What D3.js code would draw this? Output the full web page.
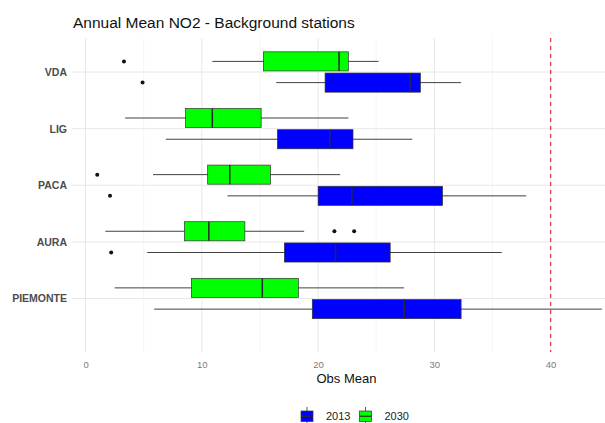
<!DOCTYPE html>
<html>
<head>
<meta charset="utf-8">
<script src="https://cdn.jsdelivr.net/npm/d3@7"></script>
<style>
  html, body { margin: 0; padding: 0; background: #ffffff; }
  svg { display: block; font-family: "Liberation Sans", Arial, Helvetica, sans-serif; }
</style>
</head>
<body>
<svg id="chart" width="605" height="423"></svg>
<script>
// Regions (top to bottom) and scenario years
const regions = ["VDA", "LIG", "PACA", "AURA", "PIEMONTE"];
const years = ["2013", "2030"];

// Box statistics per region, 2013
const low2013    = [16.4,  6.9, 12.2,  5.3,  5.9];
const q1_2013    = [20.6, 16.5, 20.0, 17.1, 19.5];
const median2013 = [27.9, 21.0, 22.9, 21.5, 27.4];
const q3_2013    = [28.8, 23.0, 30.7, 26.2, 32.3];
const high2013   = [32.3, 28.1, 37.9, 35.8, 44.4];
const outliers2013 = [[4.9], [], [2.1], [2.2], []];

// Box statistics per region, 2030
const low2030    = [10.9,  3.4,  5.8,  1.7,  2.5];
const q1_2030    = [15.3,  8.6, 10.5,  8.5,  9.1];
const median2030 = [21.8, 10.9, 12.4, 10.6, 15.2];
const q3_2030    = [22.6, 15.1, 15.9, 13.7, 18.3];
const high2030   = [25.2, 22.6, 21.9, 18.8, 27.4];
const outliers2030 = [[3.3], [], [1.0], [21.4, 23.1], []];

// Annual limit value for NO2
const limitValue = 40;

// Axis ticks
const xTicks = [0, 10, 20, 30, 40];
const xMinorTicks = [5, 15, 25, 35, 45];

const fillColor = { "2013": "#0000ff", "2030": "#00ff00" };

// Assemble box records from the arrays
const boxes = [];
regions.forEach((r, i) => {
  boxes.push({ region: r, year: "2013", low: low2013[i], q1: q1_2013[i], med: median2013[i], q3: q3_2013[i], high: high2013[i], out: outliers2013[i] });
  boxes.push({ region: r, year: "2030", low: low2030[i], q1: q1_2030[i], med: median2030[i], q3: q3_2030[i], high: high2030[i], out: outliers2030[i] });
});

const svg = d3.select("#chart");
const W = 605, H = 423;
const panel = { left: 72, right: 627, top: 38, bottom: 352 };

// x: data range with 5% expansion on each side
const allVals = boxes.flatMap(b => [b.low, b.high, ...b.out]);
const lo = d3.min(allVals), hi = d3.max(allVals);
const pad = (hi - lo) * 0.05;
const x = d3.scaleLinear().domain([lo - pad, hi + pad]).range([panel.left, panel.right]);

// y: one slot per region, dodged by year inside each slot
const y = d3.scalePoint().domain(regions).range([72, 298.5]);
const step = y.step();
const dodge = d3.scaleBand().domain(["2030", "2013"])
  .range([-0.375 * step, 0.375 * step])
  .paddingInner(0.1).paddingOuter(0.05);
const bh = dodge.bandwidth();
const cy = b => y(b.region) + dodge(b.year) + bh / 2;

svg.append("defs").append("clipPath").attr("id", "clip")
  .append("rect").attr("x", panel.left).attr("y", panel.top)
  .attr("width", W - panel.left).attr("height", panel.bottom - panel.top);

// Grid
const grid = svg.append("g");
grid.selectAll("line.minor").data(xMinorTicks).join("line")
  .attr("x1", d => x(d)).attr("x2", d => x(d))
  .attr("y1", panel.top).attr("y2", panel.bottom)
  .attr("stroke", "#f1f1f1").attr("stroke-width", 0.7);
grid.selectAll("line.major").data(xTicks).join("line")
  .attr("x1", d => x(d)).attr("x2", d => x(d))
  .attr("y1", panel.top).attr("y2", panel.bottom)
  .attr("stroke", "#e8e8e8").attr("stroke-width", 1);
grid.selectAll("line.cat").data(regions).join("line")
  .attr("x1", panel.left).attr("x2", W)
  .attr("y1", d => y(d)).attr("y2", d => y(d))
  .attr("stroke", "#e8e8e8").attr("stroke-width", 1);

const plot = svg.append("g").attr("clip-path", "url(#clip)");

// Whiskers
plot.selectAll("line.whisker").data(boxes).join("line")
  .attr("x1", d => x(d.low)).attr("x2", d => x(d.high))
  .attr("y1", cy).attr("y2", cy)
  .attr("stroke", "#404040").attr("stroke-width", 1);

// Boxes
plot.selectAll("rect.box").data(boxes).join("rect")
  .attr("x", d => x(d.q1)).attr("width", d => x(d.q3) - x(d.q1))
  .attr("y", d => cy(d) - bh / 2).attr("height", bh)
  .attr("fill", d => fillColor[d.year])
  .attr("stroke", "#333333").attr("stroke-width", 0.7);

// Medians
plot.selectAll("line.median").data(boxes).join("line")
  .attr("x1", d => x(d.med)).attr("x2", d => x(d.med))
  .attr("y1", d => cy(d) - bh / 2).attr("y2", d => cy(d) + bh / 2)
  .attr("stroke", "#2a2a2a").attr("stroke-width", 1.5);

// Outliers
const outPts = boxes.flatMap(b => b.out.map(v => ({ v, b })));
plot.selectAll("circle.out").data(outPts).join("circle")
  .attr("cx", d => x(d.v)).attr("cy", d => cy(d.b)).attr("r", 2)
  .attr("fill", "#111111");

// Limit value reference line
plot.append("line")
  .attr("x1", x(limitValue)).attr("x2", x(limitValue))
  .attr("y1", panel.top).attr("y2", panel.bottom)
  .attr("stroke", "#e0473f").attr("stroke-width", 1.3)
  .attr("stroke-dasharray", "4,4");

// Axes
const xAxis = svg.append("g").attr("transform", `translate(0,${panel.bottom})`)
  .call(d3.axisBottom(x).tickValues(xTicks).tickSize(0).tickPadding(9).tickFormat(d3.format("d")));
xAxis.select(".domain").remove();
xAxis.selectAll("text").attr("fill", "#7a7a7a").attr("font-size", 9.5)
  .attr("font-family", "Liberation Sans, Arial, sans-serif");

const yAxis = svg.append("g").attr("transform", `translate(${panel.left},0)`)
  .call(d3.axisLeft(y).tickSize(0).tickPadding(5));
yAxis.select(".domain").remove();
yAxis.selectAll("text").attr("fill", "#4d4d4d").attr("font-size", 10.5)
  .attr("font-weight", "bold").attr("font-family", "Liberation Sans, Arial, sans-serif");

// Titles
svg.append("text").attr("x", 73).attr("y", 28)
  .attr("font-size", 15.5).attr("fill", "#111").text("Annual Mean NO2 - Background stations");
svg.append("text").attr("x", (panel.left + W) / 2 + 8).attr("y", 383)
  .attr("text-anchor", "middle").attr("font-size", 13).attr("fill", "#111").text("Obs Mean");

// Legend
const legend = svg.append("g");
const legendX = { "2013": 301, "2030": 359.5 };
years.forEach(yr => {
  const g = legend.append("g").attr("transform", `translate(${legendX[yr]},0)`);
  g.append("line").attr("x1", 6).attr("x2", 6).attr("y1", 407).attr("y2", 425)
    .attr("stroke", "#333").attr("stroke-width", 0.8);
  g.append("rect").attr("x", 0).attr("y", 411).attr("width", 12).attr("height", 10.5)
    .attr("fill", fillColor[yr]).attr("stroke", "#333").attr("stroke-width", 0.7);
  g.append("line").attr("x1", 0).attr("x2", 12).attr("y1", 416.2).attr("y2", 416.2)
    .attr("stroke", "#2a2a2a").attr("stroke-width", 1.2);
  g.append("text").attr("x", 25).attr("y", 420).attr("font-size", 11)
    .attr("fill", "#222").text(yr);
});
</script>
</body>
</html>
